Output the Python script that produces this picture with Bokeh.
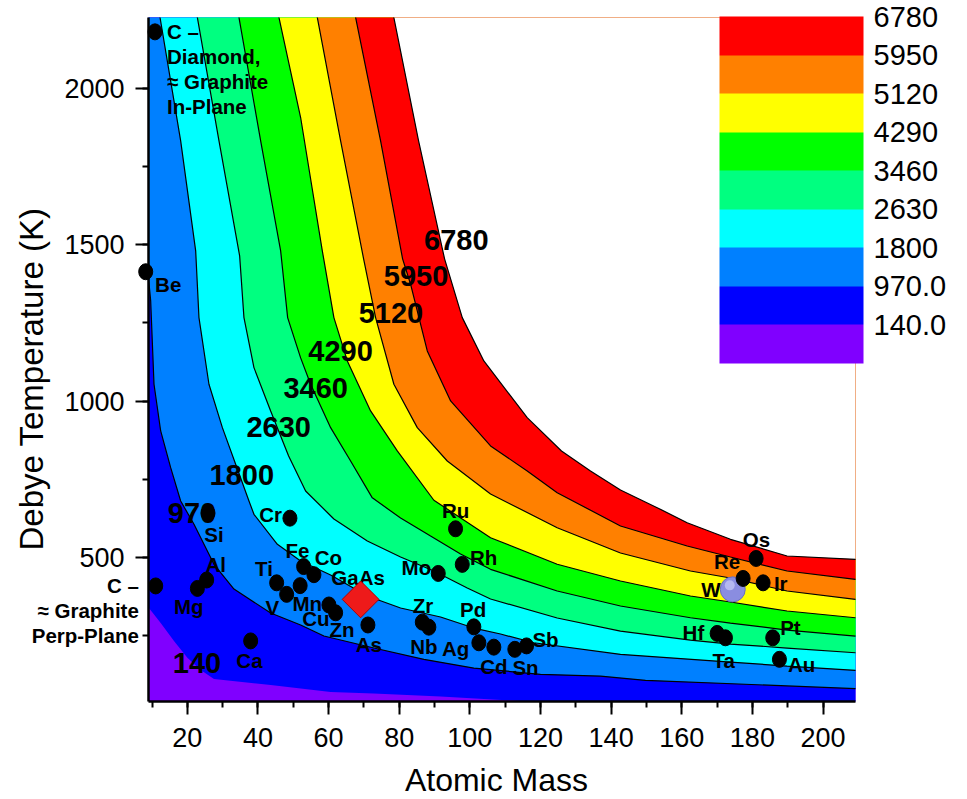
import numpy as np
from bokeh.plotting import figure
from bokeh.models import (Range1d, SingleIntervalTicker, ColorBar, LinearColorMapper,
                          FixedTicker)
from bokeh.embed import file_html
from bokeh.resources import INLINE
from bokeh.core.properties import value

FONT = "Liberation Sans"

# ---------------- data ----------------
levels = [140, 970, 1800, 2630, 3460, 4290, 5120, 5950, 6780]
band_colors = ["#8000ff", "#0000ff", "#0080ff", "#00ffff", "#00ff80",
               "#00ff00", "#ffff00", "#ff8000", "#ff0000"]
above_color = "#ffffff"

# contour lines: (atomic mass, Debye temperature)
c140_m = [8.9, 12.45, 16.22, 20.01, 23.78, 27.54, 43.59, 60.57, 72.74, 91.7, 114.35, 125.7]
c140_t = [340.5, 289.2, 231.6, 178.1, 138.7, 109.9, 90.6, 68.2, 63.4, 53.8, 39.4, 23.4]

c970_m = [8.9, 9.62, 10.56, 12.45, 15.28, 18.11, 21.88, 27.54, 33.2, 43.59, 52.08, 58.67,
          72.83, 86.98, 101.13, 120.0, 136.99, 149.73, 209.16, 215]
c970_t = [1405, 1320.6, 1053.8, 904.2, 786.7, 680, 605.4, 477.3, 398.1, 321.3, 282.8, 247.6,
          209.2, 173, 145.1, 124.9, 119.5, 105.7, 79.4, 78]

c1800_m = [11.2, 18.11, 22.36, 23.29, 26.12, 29.92, 33.68, 37.45, 38.86, 45.49, 52.08, 60.57,
           70.96, 80.38, 91.7, 101.13, 108.69, 118.11, 142.65, 173.79, 189.83, 209.16, 215]
c1800_t = [2300, 1833, 1480.8, 1267.1, 1053.8, 914.8, 797.6, 680, 637.4, 541.3, 487.8, 443,
           375.7, 337.3, 308.5, 273.2, 254, 226.1, 189, 164.3, 151.5, 137.7, 136]

c2630_m = [21.72, 28.96, 34.81, 36.03, 38.86, 43.59, 48.68, 53.49, 61.5, 70.96, 80.38, 89.81,
           99.26, 105.86, 124.73, 142.65, 162.47, 173.79, 189.83, 209.16, 215]
c2630_t = [2300, 1833, 1464.8, 1267.1, 1107, 968.3, 824.2, 712, 622.4, 551.9, 500.6, 455.8,
           401.3, 366.1, 305.3, 263.6, 234.8, 222, 209.2, 194.1, 192]

c3460_m = [33.5, 40.76, 46.42, 48.4, 52.08, 54.91, 60.57, 66.23, 72.37, 80.38, 88.87, 97.36,
           105.86, 124.73, 142.65, 162.47, 173.79, 189.83, 209.16, 215]
c3460_t = [2300, 1833, 1480.8, 1267.1, 1138.1, 1053.8, 914.8, 808.1, 690, 625.6, 567.9, 510.3,
           461.2, 391.7, 343.7, 306.2, 289.2, 266.8, 247.6, 246]

c4290_m = [44.56, 52.08, 58.22, 61.5, 65.3, 71.89, 79.45, 89.81, 105.86, 124.73, 142.65,
           162.47, 173.79, 189.83, 209.16, 215]
c4290_t = [2300, 1907.8, 1480.8, 1267.1, 1128.4, 968.3, 840.2, 682.3, 562.5, 477.3, 423.8,
           375.7, 356.5, 327.7, 306.2, 305]

c5120_m = [55.6, 63.4, 69.91, 73.31, 78.49, 85.11, 93.6, 105.86, 124.73, 142.65, 162.47,
           173.79, 189.83, 209.16, 215]
c5120_t = [2300, 1833, 1455.2, 1267.1, 1053.8, 914.8, 808.1, 702.4, 594.5, 513.5, 455.8,
           433.4, 391.7, 365.2, 364]

c5950_m = [66.36, 74.72, 80.95, 83.21, 87.94, 94.55, 105.86, 116.24, 124.73, 142.65, 161.53,
           173.79, 189.83, 209.16, 215]
c5950_t = [2300, 1833, 1455.2, 1374.1, 1160.5, 1000.3, 856.2, 776.1, 706.6, 599.9, 535.9,
           500.6, 455.8, 429.2, 428]

c6780_m = [77.2, 85.48, 92.84, 97.85, 103.96, 116.24, 125.95, 134.16, 142.65, 153.04, 161.53,
           173.79, 189.83, 209.16, 215]
c6780_t = [2300, 1833.1, 1455.2, 1267.1, 1128.4, 946.8, 840.2, 776.1, 715.3, 658.6, 610.5,
           557.3, 503.8, 493.3, 492]

# contour label anchors
clabel_m = [22.73, 21.31, 35.44, 45.85, 56.33, 63.4, 77.64, 84.77, 96.15]
clabel_t = [162, 641, 763, 918, 1043, 1161, 1281, 1401, 1516]

# elements: atomic mass / Debye temperature as plotted
elem_names = ["Be", "Si", "Al", "Mg", "Ca", "Cr", "Ti", "V", "Fe", "Co", "Mn", "Cu", "Zn",
              "As", "Zr", "Nb", "Mo", "Ru", "Rh", "Pd", "Ag", "Cd", "Sn", "Sb", "Hf", "Ta",
              "Re", "Os", "Ir", "Pt", "Au"]
elem_mass = [8.21, 25.84, 25.47, 22.84, 37.93, 49.05, 45.29, 48.12, 52.93, 55.84, 51.94, 60.09,
             61.99, 71.13, 86.53, 88.39, 91.05, 95.95, 97.85, 101.13, 102.55, 106.79, 112.73,
             116.05, 170.02, 172.37, 177.38, 181.06, 183.04, 185.76, 187.66]
elem_debye = [1414, 641, 427, 400, 232, 625, 418, 381, 470, 444, 409, 347, 322, 283, 292, 276,
              448, 591, 477, 277, 226, 212, 205, 216, 256, 242, 432, 496, 418, 242, 173]

carbon_mass = [10.84, 11.04]
carbon_debye = [2182, 408]
carbon_diamond_note = ["C \u2013", "Diamond,", "\u2248 Graphite", "In-Plane"]
carbon_perp_note = ["C \u2013", "\u2248 Graphite", "Perp-Plane"]

gaas_mass = [69.06]
gaas_debye = [365]
w_mass = [174.44]
w_debye = [397]

x_title = "Atomic Mass"
y_title = "Debye Temperature (K)"

# ---------------- layout / style ----------------
X0, X1 = 9, 209.2
Y0, Y1 = 38, 2228
FW, FH = 707, 684
SX = FW / (X1 - X0)   # px per mass unit
SY = FH / (Y1 - Y0)   # px per kelvin

# label offsets in screen px (dx right, dy down)
elem_dx = [22.5, 6, 9, -8.7, -1.2, -19.3, -12.7, -14.3, -6.3, 14.5, 7.2, -13, 6.3, 1, 0.8, -5,
           -21.9, 0, 21.3, -0.8, -23.3, 0, 10.7, 19, -23.7, -1.7, -16, 0.3, 17.6, 17.7, 22.2]
elem_dy = [12.6, 21, -15.7, 17.7, 20, -4, -14.4, 12.7, -16.2, -17, 18.2, 13.3, 16.6, 19.3, -17,
           19, -6.3, -18.4, -7.3, -17.4, 6, 19, 18.4, -6.7, -0.6, 22.6, -16.6, -19, 1, -10, 5]

def off(m, t, dx, dy):
    return m + dx / SX, t - dy / SY

p = figure(frame_width=FW, frame_height=FH,
           x_range=Range1d(X0, X1), y_range=Range1d(Y0, Y1),
           min_border_left=148, min_border_right=103, min_border_top=17, min_border_bottom=97,
           output_backend="svg", toolbar_location=None)
p.background_fill_color = band_colors[0]
p.border_fill_color = "white"
p.outline_line_color = None
p.grid.visible = False

p.xaxis.ticker = SingleIntervalTicker(interval=20, num_minor_ticks=2)
p.yaxis.ticker = SingleIntervalTicker(interval=500, num_minor_ticks=2)
for ax in (p.xaxis[0], p.yaxis[0]):
    ax.axis_line_width = 2.5
    ax.axis_line_color = "black"
    ax.major_tick_line_width = 2
    ax.minor_tick_line_width = 2
    ax.major_tick_line_color = "black"
    ax.minor_tick_line_color = "black"
    ax.major_tick_out = 13
    ax.major_tick_in = 0
    ax.minor_tick_out = 6
    ax.minor_tick_in = 0
    ax.major_label_text_font = FONT
    ax.major_label_text_font_size = "27px"
    ax.major_label_text_color = "black"
p.xaxis[0].major_label_standoff = 13
p.yaxis[0].major_label_standoff = 11

# ---------------- filled contour bands ----------------
curves = [(c140_m, c140_t), (c970_m, c970_t), (c1800_m, c1800_t), (c2630_m, c2630_t),
          (c3460_m, c3460_t), (c4290_m, c4290_t), (c5120_m, c5120_t), (c5950_m, c5950_t),
          (c6780_m, c6780_t)]
fill_above = band_colors[1:] + [above_color]
FAR_X, FAR_Y = 400, 5000
for (cm, ct), col in zip(curves, fill_above):
    xs = list(cm) + [FAR_X, FAR_X, cm[0]]
    ys = list(ct) + [ct[-1], FAR_Y, FAR_Y]
    p.patch(xs, ys, fill_color=col, line_color=None)

for k, (cm, ct) in enumerate(curves):
    if k == 0:
        continue
    p.line(cm, ct, line_color="black", line_width=1.2)

# contour labels
p.text(x=clabel_m, y=clabel_t, text=[str(v) for v in levels],
       text_font=value(FONT), text_font_style="bold", text_font_size="29px",
       text_align="center", text_baseline="middle", text_color="black")

# element labels
LBL = dict(text_font=value(FONT), text_font_style="bold", text_font_size="20.5px",
           text_baseline="middle", text_color="black")
lab = [off(m, t, dx, dy) for m, t, dx, dy in zip(elem_mass, elem_debye, elem_dx, elem_dy)]
p.text(x=[a for a, b in lab], y=[b for a, b in lab], text=elem_names,
       text_align="center", **LBL)

gx, gy = off(gaas_mass[0], gaas_debye[0], -2.5, -21.6)
p.text(x=[gx], y=[gy], text=["GaAs"], text_align="center", **LBL)
wx, wy = off(w_mass[0], w_debye[0], -21.8, 0)
p.text(x=[wx], y=[wy], text=["W"], text_align="center", **LBL)

# carbon (diamond) note inside the frame
dn = [off(carbon_mass[0], carbon_debye[0], 12, i * 25) for i in range(len(carbon_diamond_note))]
p.text(x=[a for a, b in dn], y=[b for a, b in dn], text=carbon_diamond_note,
       text_align="left", **LBL)

# carbon (perpendicular) note left of the axis (overlay level: not clipped to the frame)
pn = [off(X0, carbon_debye[1], -9.7, d) for d in (0, 24.3, 50)]
p.text(x=[a for a, b in pn], y=[b for a, b in pn], text=carbon_perp_note,
       text_align="right", level="overlay", **LBL)

# markers
p.ellipse(x=elem_mass + carbon_mass, y=elem_debye + carbon_debye, width=14, height=16,
          width_units="screen", height_units="screen", fill_color="black",
          line_color="black", level="overlay")
p.scatter(gaas_mass, gaas_debye, marker="square", size=26, angle=np.pi / 4,
          fill_color="#ee1a1a", line_color="#b00000", line_width=1)
p.scatter(w_mass, w_debye, marker="circle", size=25, fill_color="#8a8de0",
          line_color="#6a6dc0", line_width=1)
hx, hy = off(w_mass[0], w_debye[0], -3, -4)
p.scatter([hx], [hy], marker="circle", size=10, fill_color="#c8caf6", fill_alpha=0.7,
          line_color=None)

# axis titles, as overlay text placed relative to the frame
axx, axy = off(X0, Y0, 348, 78)
p.text(x=[axx], y=[axy], text=[x_title], text_font=value(FONT), text_font_size="32px",
       text_align="center", text_baseline="middle", text_color="black", level="overlay")
ayx, ayy = off(X0, Y0, -117.5, -322.5)
p.text(x=[ayx], y=[ayy], text=[y_title], angle=np.pi / 2, text_font=value(FONT),
       text_font_size="33px", text_align="center", text_baseline="middle",
       text_color="black", level="overlay")

# colour scale legend
mapper = LinearColorMapper(palette=band_colors, low=levels[0] - (levels[1] - levels[0]),
                           high=levels[-1])
cb = ColorBar(color_mapper=mapper, ticker=FixedTicker(ticks=levels),
              major_label_overrides={140: "140.0", 970: "970.0"},
              width=144, height=347, location=(571, 338), padding=0, label_standoff=10,
              major_label_text_font=FONT, major_label_text_font_size="29px",
              major_label_text_color="black",
              major_tick_line_color=None, minor_tick_line_color=None,
              bar_line_color=None, border_line_color=None, background_fill_alpha=0,
              orientation="vertical")
p.add_layout(cb)

open("out.html", "w").write(file_html(p, INLINE))
